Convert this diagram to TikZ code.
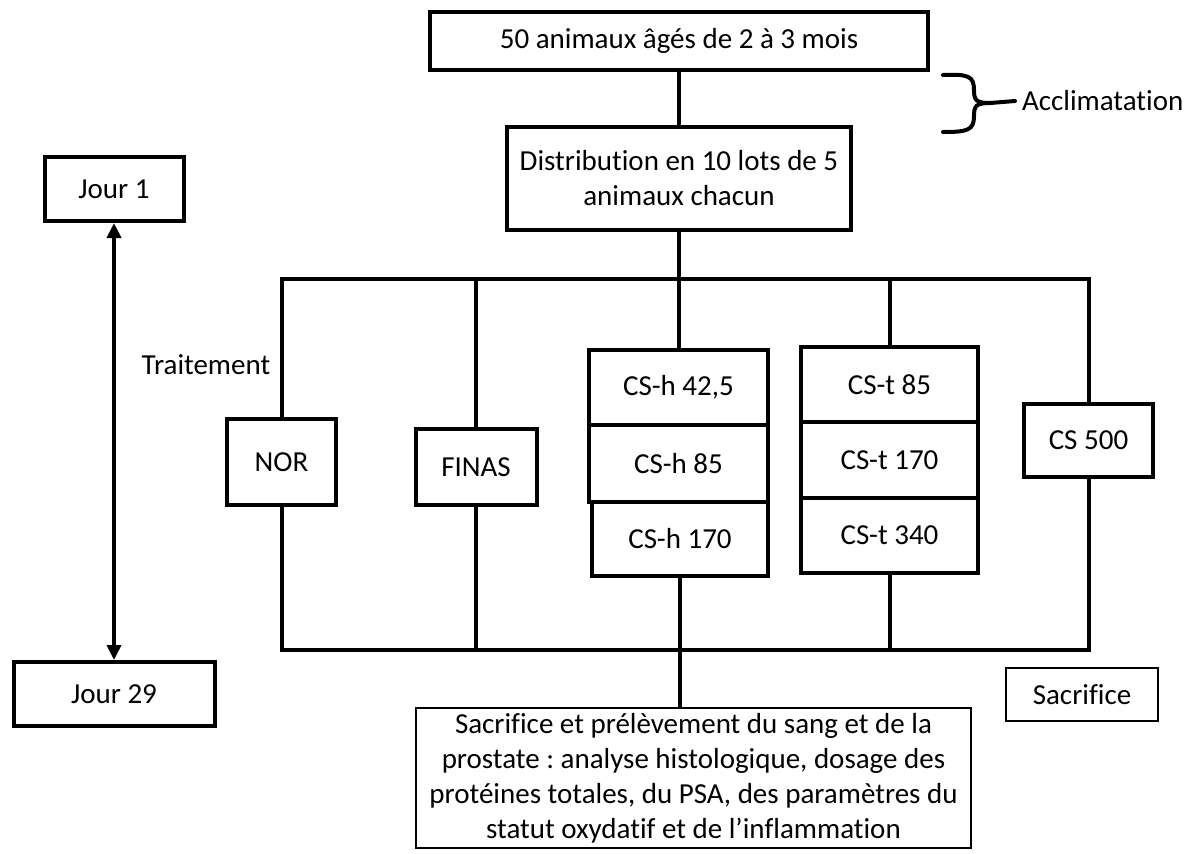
\documentclass[tikz,border=0pt]{standalone}
\usepackage{fontspec}
\setmainfont[Ligatures=NoCommon]{Carlito}
\frenchspacing
\usetikzlibrary{arrows.meta,calc}

\begin{document}
\begin{tikzpicture}[x=0.5pt,y=-0.5pt,
  font=\fontsize{14.5}{17.5}\selectfont,
  box/.style={draw=black, line width=2pt, inner sep=0pt, align=center},
  thinbox/.style={draw=black, line width=0.9pt, inner sep=0pt, align=center},
  link/.style={black, line width=2pt}]
\useasboundingbox (0,0) rectangle (1184,853);
% boxes
\node[box, minimum width=249pt, minimum height=29pt] (top) at (679,41) {50 animaux âgés de 2 à 3 mois};
\node[box, minimum width=172pt, minimum height=51.5pt] (dist) at (679,178.5) {Distribution en 10 lots de 5\\animaux chacun};
\node[box, minimum width=69.5pt, minimum height=32pt] (j1) at (114,189) {Jour 1};
\node[box, minimum width=100.5pt, minimum height=32pt] (j29) at (114,694) {Jour 29};
\node[box, minimum width=54.5pt, minimum height=43pt] (nor) at (281.5,462) {NOR};
\node[box, minimum width=60.5pt, minimum height=38pt] (finas) at (476,467) {FINAS};
\node[box, minimum width=89.5pt, minimum height=37.5pt] (csh1) at (678.5,387.5) {CS-h 42,5};
\node[box, minimum width=89.5pt, minimum height=38.5pt] (csh2) at (678.5,463.5) {CS-h 85};
\node[box, minimum width=88pt, minimum height=37pt] (csh3) at (680,539) {CS-h 170};
\node[box, minimum width=88.5pt, minimum height=37.5pt] (cst1) at (889.5,384.5) {CS-t 85};
\node[box, minimum width=88.5pt, minimum height=38pt] (cst2) at (889.5,460) {CS-t 170};
\node[box, minimum width=88.5pt, minimum height=37.5pt] (cst3) at (889.5,535.5) {CS-t 340};
\node[box, minimum width=64.5pt, minimum height=36.5pt] (cs500) at (1088.5,440.5) {CS 500};
\node[thinbox, minimum width=76pt, minimum height=26.5pt] (sacr) at (1082,694.5) {Sacrifice};
\node[thinbox, minimum width=277.5pt, minimum height=70pt] (final) at (693.5,778) {Sacrifice et prélèvement du sang et de la\\prostate : analyse histologique, dosage des\\protéines totales, du PSA, des paramètres du\\statut oxydatif et de l’inflammation};
\node (trait) at (206,365) {Traitement};
\node[anchor=west] (accl) at (1015,101) {Acclimatation};
% bus
\coordinate (bustop) at (679,279);
\coordinate (busbot) at (679,650);
\draw[link] (top.south) -- (dist.north);
\draw[link] (dist.south) -- (bustop);
\draw[link] (nor.north) |- (bustop) -| (cs500.north);
\draw[link] (finas.north) -- (finas.north |- bustop);
\draw[link] (csh1.north) -- (csh1.north |- bustop);
\draw[link] (cst1.north) -- (cst1.north |- bustop);
\draw[link] (nor.south) |- (busbot) -| (cs500.south);
\draw[link] (finas.south) -- (finas.south |- busbot);
\draw[link] (cst3.south) -- (cst3.south |- busbot);
\draw[link] (csh3.south) -- (csh3.south |- final.north);
% jours
\draw[link, {Triangle[length=7.5pt,width=7pt]}-{Triangle[length=7.5pt,width=7pt]}] (j1.south) -- (j29.north);
% accolade
\draw[link, line cap=round] (943,75) .. controls (968,74) and (974,76) .. (974,90)
  .. controls (974,100) and (976,103) .. (990,103) -- (accl.west)
  (990,103) .. controls (976,103) and (974,106) .. (974,116)
  .. controls (974,130) and (968,132) .. (943,132);
\end{tikzpicture}
\end{document}
